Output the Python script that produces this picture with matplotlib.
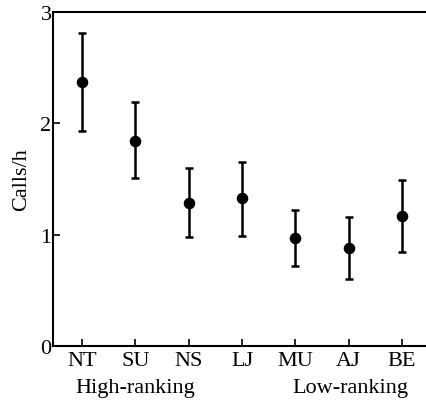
import numpy as np
import matplotlib
matplotlib.use("Agg")
import matplotlib.pyplot as plt

# individuals and call rates (calls/h)
names = ["NT", "SU", "NS", "LJ", "MU", "AJ", "BE"]
means = [2.37, 1.84, 1.28, 1.33, 0.97, 0.88, 1.165]
upper = [2.81, 2.19, 1.60, 1.655, 1.22, 1.16, 1.49]
lower = [1.93, 1.51, 0.98, 0.99, 0.72, 0.60, 0.845]

plt.rcParams['font.family'] = ['Liberation Serif', 'DejaVu Serif']

x = np.arange(1, len(names) + 1)
means = np.array(means)
yerr = [means - np.array(lower), np.array(upper) - means]

fig = plt.figure(figsize=(4.26, 4.02), dpi=100)
ax = fig.add_axes([0.1244, 0.137, 0.8756, 0.8307])

ax.errorbar(x, means, yerr=yerr, fmt='o', color='black', ms=7.3,
            elinewidth=1.8, capsize=2.8, capthick=1.8)

ax.set_xlim(0.455, 7.45)
ax.set_ylim(0, 3)
ax.set_yticks([0, 1, 2, 3])
ax.set_xticks(x)
ax.set_xticklabels(names)
ax.tick_params(direction='in', length=5, width=1.2, labelsize=16, pad=4)
ax.tick_params(axis='y', pad=1)
for s in ['left', 'bottom', 'top']:
    ax.spines[s].set_linewidth(1.5)
ax.spines['right'].set_visible(False)

ax.set_ylabel("Calls/h", fontsize=16, labelpad=7)

fig.text(0.317, 0.022, "High-ranking", fontsize=16, ha='center')
fig.text(0.822, 0.022, "Low-ranking", fontsize=16, ha='center')

fig.savefig("out.png", dpi=100)
